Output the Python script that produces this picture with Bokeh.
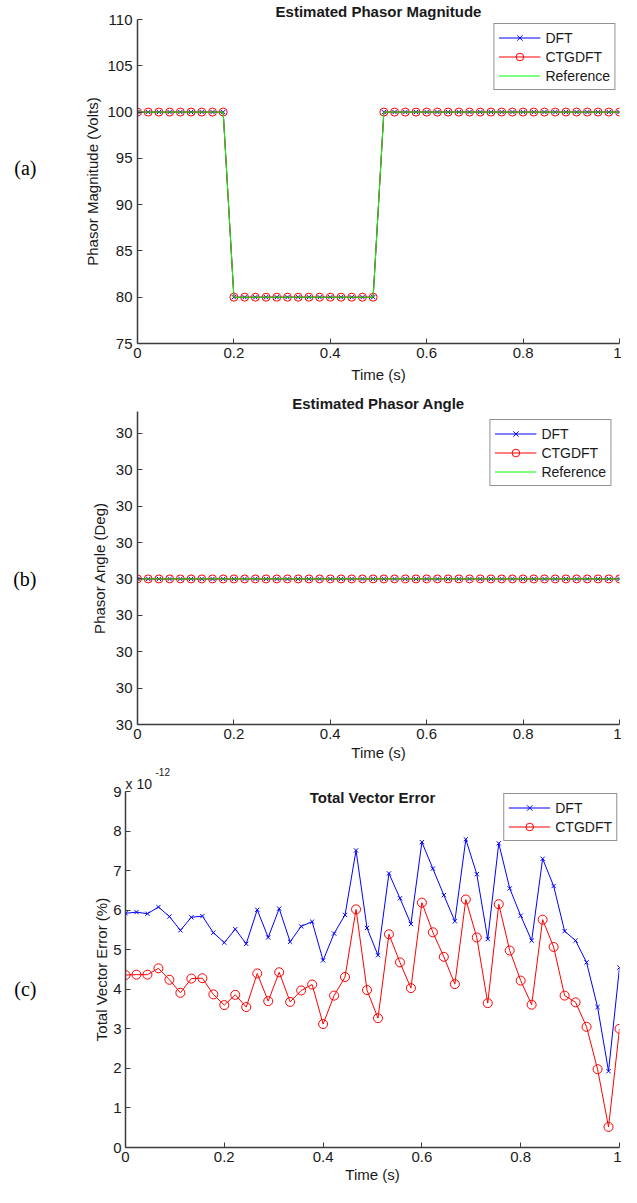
from bokeh.plotting import figure
from bokeh.layouts import column
from bokeh.models import Range1d, FixedTicker, Label, LinearAxis, Title
from bokeh.embed import file_html
from bokeh.resources import INLINE

# ---------------- data ----------------
time_s = [0.0, 0.0222, 0.0444, 0.0667, 0.0889, 0.1111, 0.1333, 0.1556, 0.1778, 0.2,
          0.2222, 0.2444, 0.2667, 0.2889, 0.3111, 0.3333, 0.3556, 0.3778, 0.4, 0.4222,
          0.4444, 0.4667, 0.4889, 0.5111, 0.5333, 0.5556, 0.5778, 0.6, 0.6222, 0.6444,
          0.6667, 0.6889, 0.7111, 0.7333, 0.7556, 0.7778, 0.8, 0.8222, 0.8444, 0.8667,
          0.8889, 0.9111, 0.9333, 0.9556, 0.9778, 1.0]

mag_dft = [100, 100, 100, 100, 100, 100, 100, 100, 100,
           80, 80, 80, 80, 80, 80, 80, 80, 80, 80, 80, 80, 80, 80,
           100, 100, 100, 100, 100, 100, 100, 100, 100, 100, 100, 100,
           100, 100, 100, 100, 100, 100, 100, 100, 100, 100, 100]
mag_ctgdft = [100, 100, 100, 100, 100, 100, 100, 100, 100,
              80, 80, 80, 80, 80, 80, 80, 80, 80, 80, 80, 80, 80, 80,
              100, 100, 100, 100, 100, 100, 100, 100, 100, 100, 100, 100,
              100, 100, 100, 100, 100, 100, 100, 100, 100, 100, 100]
mag_ref = [100, 100, 100, 100, 100, 100, 100, 100, 100,
           80, 80, 80, 80, 80, 80, 80, 80, 80, 80, 80, 80, 80, 80,
           100, 100, 100, 100, 100, 100, 100, 100, 100, 100, 100, 100,
           100, 100, 100, 100, 100, 100, 100, 100, 100, 100, 100]

ang_dft = [30, 30, 30, 30, 30, 30, 30, 30, 30, 30, 30, 30, 30, 30, 30, 30,
           30, 30, 30, 30, 30, 30, 30, 30, 30, 30, 30, 30, 30, 30, 30, 30,
           30, 30, 30, 30, 30, 30, 30, 30, 30, 30, 30, 30, 30, 30]
ang_ctgdft = [30, 30, 30, 30, 30, 30, 30, 30, 30, 30, 30, 30, 30, 30, 30, 30,
              30, 30, 30, 30, 30, 30, 30, 30, 30, 30, 30, 30, 30, 30, 30, 30,
              30, 30, 30, 30, 30, 30, 30, 30, 30, 30, 30, 30, 30, 30]
ang_ref = [30, 30, 30, 30, 30, 30, 30, 30, 30, 30, 30, 30, 30, 30, 30, 30,
           30, 30, 30, 30, 30, 30, 30, 30, 30, 30, 30, 30, 30, 30, 30, 30,
           30, 30, 30, 30, 30, 30, 30, 30, 30, 30, 30, 30, 30, 30]

# Total vector error, in units of 1e-12 %
tve_dft = [5.92, 5.95, 5.91, 6.08, 5.84, 5.49, 5.82, 5.85, 5.43, 5.18,
           5.52, 5.15, 6.01, 5.31, 6.04, 5.20, 5.59, 5.71, 4.73, 5.41,
           5.88, 7.51, 5.55, 4.86, 6.93, 6.30, 5.65, 7.72, 7.05, 6.38,
           5.72, 7.79, 6.91, 5.27, 7.69, 6.55, 5.86, 5.23, 7.30, 6.61,
           5.47, 5.23, 4.68, 3.55, 1.93, 4.55]
tve_ctgdft = [4.36, 4.37, 4.37, 4.53, 4.24, 3.91, 4.27, 4.28, 3.87, 3.60,
              3.86, 3.55, 4.40, 3.70, 4.43, 3.68, 3.97, 4.12, 3.12, 3.84,
              4.31, 6.02, 3.98, 3.27, 5.39, 4.68, 4.03, 6.19, 5.44, 4.82,
              4.13, 6.27, 5.31, 3.65, 6.15, 4.98, 4.22, 3.61, 5.76, 5.07,
              3.84, 3.67, 3.05, 1.98, 0.52, 3.00]

time_ticks = [0, 0.2, 0.4, 0.6, 0.8, 1]
time_tick_labels = ["0", "0.2", "0.4", "0.6", "0.8", "1"]
mag_ticks = [75, 80, 85, 90, 95, 100, 105, 110]
angle_ticks = [26, 27, 28, 29, 30, 31, 32, 33, 34]
angle_tick_labels = ["30", "30", "30", "30", "30", "30", "30", "30", "30"]
tve_ticks = [0, 1, 2, 3, 4, 5, 6, 7, 8, 9]

# ---------------- style ----------------
FONT = "Liberation Sans"
SERIF = "Liberation Serif"
BLUE = "#0000ff"
RED = "#ff0000"
GREEN = "#00ff00"
AXC = "#3c3c3c"
TXT = "#1a1a1a"


def make_fig(height, top, bottom, left, yr, yticks, ylabel, ylab_standoff,
             ylab_major_standoff, xlab_standoff):
    p = figure(width=621, height=height, min_border_left=left, min_border_right=2,
               min_border_top=top, min_border_bottom=bottom,
               x_range=Range1d(0, 1), y_range=Range1d(*yr),
               output_backend="svg", toolbar_location=None)
    p.frame_align = False
    p.outline_line_color = None
    p.grid.visible = False
    p.background_fill_color = "white"
    p.border_fill_color = "white"
    for ax in (p.xaxis[0], p.yaxis[0]):
        ax.axis_line_color = AXC
        ax.axis_line_width = 1.5
        ax.major_tick_line_color = AXC
        ax.major_tick_line_width = 1
        ax.major_tick_in = 5
        ax.major_tick_out = 0
        ax.minor_tick_line_color = None
        ax.major_label_text_font = FONT
        ax.major_label_text_font_size = "15px"
        ax.major_label_text_color = TXT
        ax.axis_label_text_font = FONT
        ax.axis_label_text_font_size = "15px"
        ax.axis_label_text_font_style = "normal"
        ax.axis_label_text_color = TXT
    p.xaxis.ticker = FixedTicker(ticks=time_ticks)
    p.xaxis.major_label_overrides = dict(zip(time_ticks, time_tick_labels))
    p.xaxis.axis_label = "Time (s)"
    p.xaxis.major_label_standoff = 4
    p.xaxis.axis_label_standoff = xlab_standoff
    p.yaxis.ticker = FixedTicker(ticks=yticks)
    p.yaxis.axis_label = ylabel
    p.yaxis.axis_label_standoff = ylab_standoff
    p.yaxis.major_label_standoff = ylab_major_standoff
    return p


def style_legend(p, margin):
    lg = p.legend[0]
    lg.location = "top_right"
    lg.margin = margin
    lg.padding = 4
    lg.spacing = 0
    lg.label_height = 19
    lg.glyph_height = 19
    lg.glyph_width = 42
    lg.label_standoff = 5
    lg.label_text_font = FONT
    lg.label_text_font_size = "14px"
    lg.label_text_color = TXT
    lg.border_line_color = "#262626"
    lg.border_line_width = 1
    lg.background_fill_alpha = 1.0


def set_title(p, text):
    p.title.text = text
    p.title.align = "center"
    p.title.text_font = FONT
    p.title.text_font_size = "15px"
    p.title.text_font_style = "bold"
    p.title.text_color = TXT
    p.title.standoff = 0


def panel_tag(p, tick, text, standoff):
    ax = LinearAxis(ticker=FixedTicker(ticks=[tick]),
                    major_label_overrides={tick: text})
    ax.axis_line_color = None
    ax.major_tick_line_color = None
    ax.minor_tick_line_color = None
    ax.major_tick_out = 0
    ax.major_tick_in = 0
    ax.major_label_standoff = standoff
    ax.major_label_text_font = SERIF
    ax.major_label_text_font_size = "20px"
    ax.major_label_text_color = "black"
    p.add_layout(ax, "left")


# ---------------- (a) magnitude ----------------
pa = make_fig(388, 17, 45, 137, (75, 110), mag_ticks, "Phasor Magnitude (Volts)", 3, 5, 5)
set_title(pa, "Estimated Phasor Magnitude")
pa.line(time_s, mag_dft, line_color=BLUE, line_width=1, legend_label="DFT")
pa.scatter(time_s, mag_dft, marker="x", size=6, line_color=BLUE, line_width=1, legend_label="DFT")
pa.line(time_s, mag_ctgdft, line_color=RED, line_width=1, legend_label="CTGDFT")
pa.scatter(time_s, mag_ctgdft, marker="circle", size=8, line_color=RED, fill_color=None,
           line_width=1, legend_label="CTGDFT")
pa.line(time_s, mag_ref, line_color=GREEN, line_width=1, legend_label="Reference")
style_legend(pa, 4)
panel_tag(pa, 94, "(a)", 45)

# ---------------- (b) angle ----------------
pb = make_fig(375, 23, 37, 137, (26, 34.6), angle_ticks, "Phasor Angle (Deg)", 5, 5, 2)
set_title(pb, "Estimated Phasor Angle")
pb.yaxis.major_label_overrides = dict(zip(angle_ticks, angle_tick_labels))
pb.line(time_s, ang_dft, line_color=BLUE, line_width=1, legend_label="DFT")
pb.scatter(time_s, ang_dft, marker="x", size=6, line_color=BLUE, line_width=1, legend_label="DFT")
pb.line(time_s, ang_ctgdft, line_color=RED, line_width=1, legend_label="CTGDFT")
pb.scatter(time_s, ang_ctgdft, marker="circle", size=8, line_color=RED, fill_color=None,
           line_width=1, legend_label="CTGDFT")
pb.line(time_s, ang_ref, line_color=GREEN, line_width=1, legend_label="Reference")
style_legend(pb, 8)
panel_tag(pb, 30, "(b)", 51)

# ---------------- (c) total vector error ----------------
pc = make_fig(424, 28, 40, 125, (0, 9), tve_ticks, "Total Vector Error (%)", 0, 4, 1)
pc.add_layout(Title(text="x 10", align="left", offset=0, standoff=0, text_font=FONT,
                    text_font_size="14px", text_font_style="normal", text_color=TXT), "above")
pc.add_layout(Title(text="-12", align="left", offset=30, standoff=-5, text_font=FONT,
                    text_font_size="10px", text_font_style="normal", text_color=TXT), "above")
pc.line(time_s, tve_dft, line_color=BLUE, line_width=1, legend_label="DFT")
pc.scatter(time_s, tve_dft, marker="x", size=6, line_color=BLUE, line_width=1, legend_label="DFT")
pc.line(time_s, tve_ctgdft, line_color=RED, line_width=1, legend_label="CTGDFT")
pc.scatter(time_s, tve_ctgdft, marker="circle", size=9, line_color=RED, fill_color=None,
           line_width=1, legend_label="CTGDFT")
style_legend(pc, 2)
pc.add_layout(Label(x=0.5, y=9, y_offset=-6, text="Total Vector Error", text_align="center",
                    text_baseline="middle", text_font=FONT, text_font_style="bold",
                    text_font_size="15px", text_color=TXT))
panel_tag(pc, 4, "(c)", 54)

layout = column(pa, pb, pc, spacing=0)
open("out.html", "w").write(file_html(layout, INLINE))
